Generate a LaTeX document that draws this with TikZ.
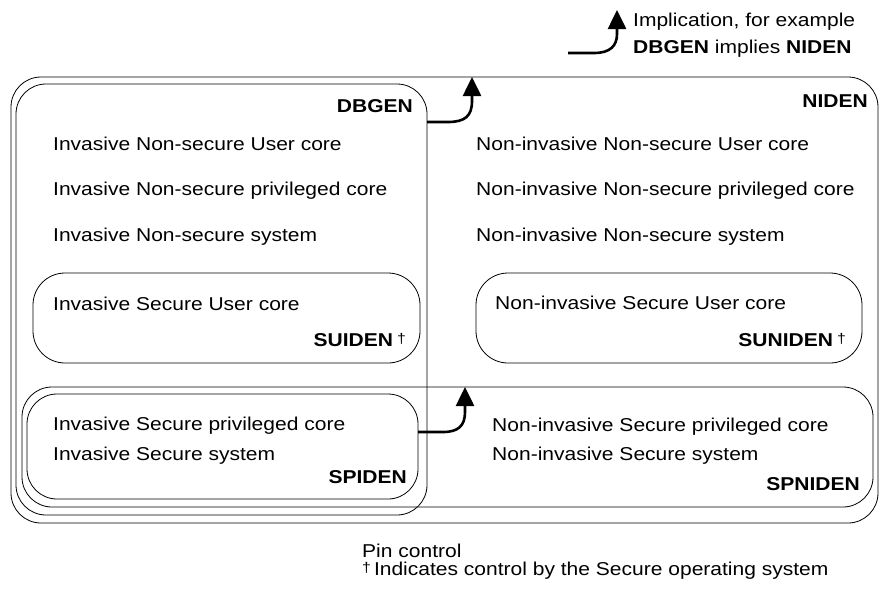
\documentclass[tikz,border=0pt]{standalone}
\usepackage{fontspec}
\setmainfont{Liberation Sans}[FakeStretch=1.13]
\usetikzlibrary{arrows.meta}
\newcommand{\mydag}{\raisebox{3pt}{\fontsize{14}{14}\selectfont †}}
\begin{document}
\begin{tikzpicture}[x=1pt,y=-1pt,
  box/.style={draw, line width=0.8pt, rounded corners=#1, inner sep=0pt, outer sep=0pt, rectangle},
  box/.default=30pt,
  txt/.style={inner sep=0pt, anchor=base west, font=\fontsize{18.6}{22}\selectfont},
  lbl/.style={inner sep=0pt, anchor=base east, font=\fontsize{18.6}{22}\selectfont\bfseries},
  arr/.style={line width=2.6pt, -{Triangle[length=19pt,width=18pt]}}]
\useasboundingbox (0,0) rectangle (880,589);

% boxes
\node[box, minimum width=867pt, minimum height=446pt] (niden) at (444.5,300) {};
\node[box, minimum width=411pt, minimum height=431pt] (dbgen) at (221.5,299.5) {};
\node[box, minimum width=851pt, minimum height=120pt] (spniden) at (447.5,447) {};
\node[box, minimum width=391pt, minimum height=105pt] (spiden) at (222.5,446.5) {};
\node[box=32pt, minimum width=387pt, minimum height=90pt] (suiden) at (226.5,318) {};
\node[box=32pt, minimum width=386pt, minimum height=90pt] (suniden) at (669,318) {};

% labels
\node[lbl] (ldbgen) at (413,112) {DBGEN};
\node[lbl] (lniden) at (868,107) {NIDEN};
\node[lbl] (lsuiden) at (406,346) {SUIDEN\hspace{4pt}{\mdseries\mydag}};
\node[lbl] (lsuniden) at (846,346) {SUNIDEN\hspace{4pt}{\mdseries\mydag}};
\node[lbl] (lspiden) at (407,483) {SPIDEN};
\node[lbl] (lspniden) at (860,490) {SPNIDEN};

% left texts
\node[txt] (t1) at (53,150) {Invasive Non-secure User core};
\node[txt] (t2) at (53,195) {Invasive Non-secure privileged core};
\node[txt] (t3) at (53,241) {Invasive Non-secure system};
\node[txt] (t4) at (53,310) {Invasive Secure User core};
\node[txt] (t5) at (53,430) {Invasive Secure privileged core};
\node[txt] (t6) at (53,460) {Invasive Secure system};

% right texts
\node[txt] (r1) at (476,150) {Non-invasive Non-secure User core};
\node[txt] (r2) at (476,195) {Non-invasive Non-secure privileged core};
\node[txt] (r3) at (476,241) {Non-invasive Non-secure system};
\node[txt] (r4) at (495,309) {Non-invasive Secure User core};
\node[txt] (r5) at (492,431) {Non-invasive Secure privileged core};
\node[txt] (r6) at (492,460) {Non-invasive Secure system};

% implication arrows
\draw[arr] (dbgen.east |- 0,122) -- (448,122) .. controls (465,122) and (472,116) .. (472,101) -- (niden.north -| 472,0);
\draw[arr] (spiden.east |- 0,432) -- (443,432) .. controls (458,432) and (465,426) .. (465,412) -- (spniden.north -| 465,0);

% legend
\coordinate (lgs) at (568,53);
\coordinate (lge) at (617,10);
\draw[arr] (lgs) -- (594,53) .. controls (610,53) and (617,46) .. (617,34) -- (lge);
\node[txt] (lg1) at (633,27) {Implication, for example};
\node[txt] (lg2) at (633,53) {\textbf{DBGEN} implies \textbf{NIDEN}};

% footer
\node[txt] (f1) at (362,557) {Pin control};
\node[txt] (f2) at (362,575) {\mydag\hspace{3pt}Indicates control by the Secure operating system};
\end{tikzpicture}
\end{document}
